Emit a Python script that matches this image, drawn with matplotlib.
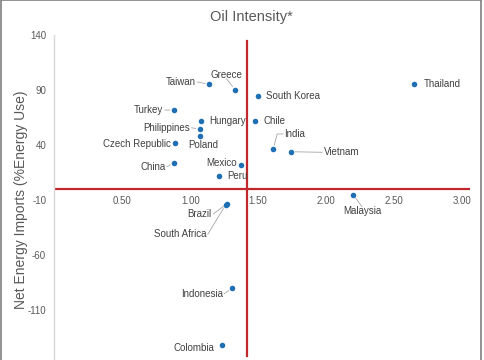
import matplotlib.pyplot as plt
from matplotlib.patches import Rectangle

# dados
paises = ['Thailand', 'Taiwan', 'Greece', 'South Korea', 'Turkey', 'Hungary', 'Chile',
          'Philippines', 'Poland', 'Czech Republic', 'India', 'Vietnam', 'China', 'Mexico',
          'Peru', 'Malaysia', 'Brazil', 'South Africa', 'Indonesia', 'Colombia']
oil_intensity = [2.65, 1.14, 1.33, 1.50, 0.88, 1.08, 1.48, 1.07, 1.07, 0.89, 1.61, 1.74,
                 0.88, 1.37, 1.21, 2.20, 1.27, 1.26, 1.31, 1.23]
net_imports = [95.2, 95.2, 90.3, 84.8, 71.8, 62.1, 62.1, 54.5, 48.5, 42.1, 36.1, 33.9,
               23.9, 21.5, 11.8, -5.2, -13.6, -14.5, -90.3, -142.1]

media_x = 1.42
linha_y = [134.5, -151.8]
xticks = [0.5, 1.0, 1.5, 2.0, 2.5, 3.0]
yticks = [140, 90, 40, -10, -60, -110]

# posicao dos rotulos em pixels relativos ao ponto (dx, dy, ha, leader)
rotulos = {
    'Thailand': (9, 0, 'left', False),
    'Taiwan': (-13.7, 2.3, 'right', True),
    'Greece': (-8.7, 15, 'center', True),
    'South Korea': (8, 0, 'left', False),
    'Turkey': (-10.5, 0, 'right', True),
    'Hungary': (8.3, 0, 'left', False),
    'Chile': (8.3, 0, 'left', False),
    'Philippines': (-10, 1.3, 'right', True),
    'Poland': (3.4, -9.6, 'center', False),
    'Czech Republic': (-4.7, -1.6, 'right', False),
    'India': (11, 15.3, 'left', True),
    'Vietnam': (33, -0.6, 'left', True),
    'China': (-8.6, -4, 'right', True),
    'Mexico': (-4, 2.6, 'right', False),
    'Peru': (8.3, 0, 'left', False),
    'Malaysia': (8.7, -16, 'center', True),
    'Brazil': (-15.3, -10, 'right', True),
    'South Africa': (-19.3, -29.3, 'right', True),
    'Indonesia': (-9.7, -5.4, 'right', True),
    'Colombia': (-7, -2.7, 'right', False),
}

plt.rcParams['font.family'] = ['Liberation Sans', 'DejaVu Sans']
plt.rcParams['axes.unicode_minus'] = False
cinza = '#595959'
vermelho = '#C0282D'

fig = plt.figure(figsize=(4.85, 3.6), dpi=100)
ax = fig.add_axes([54.5 / 485, 1 - 365 / 360, 415.5 / 485, 330 / 360])
ax.set_xlim(0, 3.06)
ax.set_ylim(-160, 140)

ax.axhline(0, color=vermelho, lw=1.6, zorder=1)
ax.plot([media_x, media_x], linha_y, color=vermelho, lw=1.6, zorder=1)

ax.scatter(oil_intensity, net_imports, s=16, color='#1F6FB5', zorder=3, linewidths=0)

px = 72 / 100
for nome, x, y in zip(paises, oil_intensity, net_imports):
    dx, dy, ha, leader = rotulos[nome]
    ax.annotate(nome, (x, y), xytext=(dx * px, dy * px), textcoords='offset points',
                ha=ha, va='center', fontsize=7, color='#404040', zorder=4)
    if leader:
        # linha guia do rotulo ate o ponto
        if ha == 'right':
            sx, sy = dx + 1.5, dy
        elif ha == 'left':
            sx, sy = dx - 1.5, dy
        else:
            sx, sy = dx, dy + (-4 if dy > 0 else 4)
        if nome == 'India':
            ax.annotate('', (x, y), xytext=((dx - 1) * px, dy * px), textcoords='offset points',
                        arrowprops=dict(arrowstyle='-', color='#A6A6A6', lw=0.6,
                                        shrinkA=0, shrinkB=3,
                                        connectionstyle='angle,angleA=180,angleB=75,rad=0'))
            continue
        ax.annotate('', (x, y), xytext=(sx * px, sy * px), textcoords='offset points',
                    arrowprops=dict(arrowstyle='-', color='#A6A6A6', lw=0.6,
                                    shrinkA=0, shrinkB=3))

for s in ['top', 'right', 'bottom']:
    ax.spines[s].set_visible(False)
ax.spines['left'].set_color('#D9D9D9')
ax.spines['left'].set_linewidth(1)

ax.set_xticks(xticks)
ax.set_xticklabels(['%.2f' % t for t in xticks])
ax.set_yticks(yticks)
ax.tick_params(axis='both', length=0, labelsize=7, labelcolor=cinza)
ax.tick_params(axis='y', pad=6)
# rotulos do eixo x ficam logo abaixo da linha zero
ax.xaxis.set_ticks_position('bottom')
ax.spines['bottom'].set_position(('data', 0))
ax.tick_params(axis='x', pad=5)

fig.text(251 / 485, 1 - 17 / 360, 'Oil Intensity*', ha='center', va='center',
         fontsize=10.5, color=cinza)
fig.text(21 / 485, 1 - 200 / 360, 'Net Energy Imports (%Energy Use)', rotation=90,
         ha='center', va='center', fontsize=10, color=cinza)

fig.patches.append(Rectangle((0.5 / 485, -0.1), 480.5 / 485, 1.1 - 0.5 / 360,
                             transform=fig.transFigure, fill=False,
                             edgecolor='#7F7F7F', lw=1.2))

plt.savefig('out.png', dpi=100)
